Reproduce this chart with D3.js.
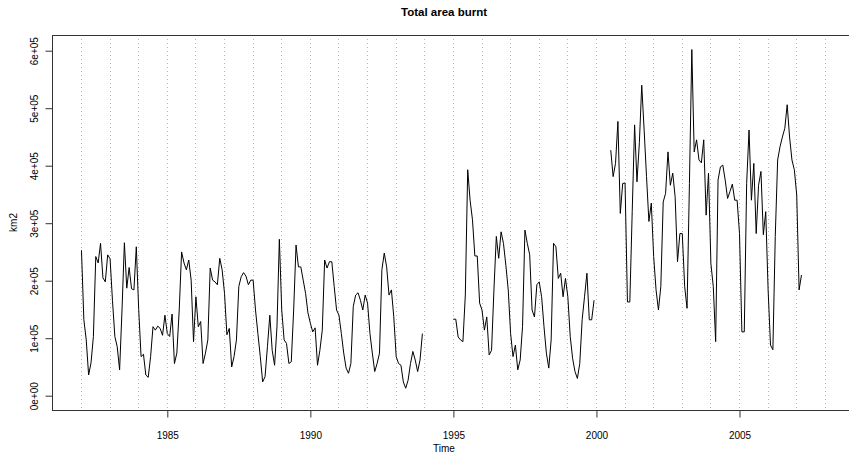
<!DOCTYPE html>
<html>
<head>
<meta charset="utf-8">
<script src="https://cdn.jsdelivr.net/npm/d3@7"></script>
<style>
  html, body { margin: 0; padding: 0; background: #fff; }
  svg { display: block; font-family: "Liberation Sans", Arial, Helvetica, sans-serif; }
</style>
</head>
<body>
<svg id="chart" width="849" height="455"></svg>
<script>
// Monthly total area burnt (km2), thousands; null = missing
const y1982 = [253, 132, 97, 36, 57, 103, 242, 231, 265, 205, 198, 245];
const y1983 = [238, 166, 103, 85, 45, 149, 266, 187, 223, 186, 184, 259];
const y1984 = [150, 68, 72, 36, 32, 68, 120, 114, 121, 117, 105, 140];
const y1985 = [108, 103, 142, 56, 74, 149, 250, 231, 219, 236, 201, 94];
const y1986 = [172, 120, 129, 56, 74, 97, 222, 201, 198, 193, 239, 219];
const y1987 = [178, 106, 117, 50, 68, 97, 190, 207, 214, 208, 193, 201];
const y1988 = [201, 149, 108, 68, 24, 33, 85, 140, 79, 53, 120, 272];
const y1989 = [149, 97, 91, 56, 59, 149, 262, 224, 224, 201, 178, 144];
const y1990 = [126, 111, 118, 53, 79, 114, 236, 222, 233, 233, 190, 149];
const y1991 = [140, 108, 74, 48, 39, 56, 155, 175, 179, 166, 149, 175];
const y1992 = [161, 108, 74, 42, 56, 74, 219, 248, 224, 175, 184, 137];
const y1993 = [68, 56, 53, 24, 13, 27, 56, 77, 62, 42, 62, 108];
const y1994 = [null, null, null, null, null, null, null, null, null, null, null, null];
const y1995 = [133, 133, 102, 97, 94, 175, 393, 340, 306, 243, 243, 161];
const y1996 = [149, 114, 137, 71, 79, 184, 277, 239, 285, 265, 227, 184];
const y1997 = [108, 68, 88, 45, 62, 120, 288, 265, 245, 149, 137, 193];
const y1998 = [198, 172, 120, 74, 48, 97, 265, 259, 204, 213, 172, 204];
const y1999 = [172, 103, 65, 42, 30, 56, 132, 172, 213, 132, 132, 166];
const y2000 = [null, null, null, null, null, null, 427, 381, 404, 477, 317, 369];
const y2001 = [370, 163, 163, 320, 471, 372, 440, 540, 462, 381, 303, 335];
const y2002 = [242, 184, 149, 190, 337, 352, 424, 366, 387, 346, 233, 282];
const y2003 = [282, 190, 152, 369, 602, 424, 445, 410, 405, 445, 314, 387];
const y2004 = [230, 190, 94, 375, 398, 401, 375, 343, 355, 368, 340, 340];
const y2005 = [282, 111, 111, 369, 462, 340, 404, 282, 366, 390, 280, 320];
const y2006 = [184, 88, 80, 277, 410, 433, 450, 465, 506, 450, 410, 393];
const y2007 = [349, 184, 210];

const years = [1982, 1983, 1984, 1985, 1986, 1987, 1988, 1989, 1990, 1991, 1992, 1993, 1994,
               1995, 1996, 1997, 1998, 1999, 2000, 2001, 2002, 2003, 2004, 2005, 2006, 2007];
const yearly = [y1982, y1983, y1984, y1985, y1986, y1987, y1988, y1989, y1990, y1991, y1992, y1993, y1994,
                y1995, y1996, y1997, y1998, y1999, y2000, y2001, y2002, y2003, y2004, y2005, y2006, y2007];

const xTicks = [1985, 1990, 1995, 2000, 2005];
const yTicks = [0, 100000, 200000, 300000, 400000, 500000, 600000];
const yTickLabels = ["0e+00", "1e+05", "2e+05", "3e+05", "4e+05", "5e+05", "6e+05"];
const vLines = d3.range(1982, 2009);

const title = "Total area burnt";
const xLabel = "Time";
const yLabel = "km2";

// build series
const series = [];
years.forEach((yr, i) => {
  yearly[i].forEach((v, m) => {
    series.push({ t: yr + m / 12, v: v == null ? null : v * 1000 });
  });
});

const svg = d3.select("#chart");
const box = { left: 52, right: 860, top: 35, bottom: 410 };

const x = d3.scaleLinear().domain([1985, 2005]).range([167.3, 739.5]);
const y = d3.scaleLinear().domain([0, 600000]).range([395.7, 50.7]);

// vertical dotted year lines
svg.append("g").selectAll("line").data(vLines).join("line")
  .attr("x1", d => x(d)).attr("x2", d => x(d))
  .attr("y1", box.top).attr("y2", box.bottom)
  .attr("stroke", "#b8b8b8").attr("stroke-width", 1)
  .attr("stroke-dasharray", "1,3")
  .attr("shape-rendering", "crispEdges");

// series line
const line = d3.line()
  .defined(d => d.v != null)
  .x(d => x(d.t))
  .y(d => y(d.v));

svg.append("path").datum(series)
  .attr("d", line)
  .attr("fill", "none")
  .attr("stroke", "#000")
  .attr("stroke-width", 1)
  .attr("stroke-linejoin", "round");

// box
svg.append("rect")
  .attr("x", box.left + 0.5).attr("y", box.top + 0.5)
  .attr("width", box.right - box.left).attr("height", box.bottom - box.top)
  .attr("fill", "none").attr("stroke", "#333").attr("stroke-width", 1);

// x axis
const xAxis = d3.axisBottom(x).tickValues(xTicks).tickSize(7).tickPadding(14)
  .tickFormat(d3.format("d"));
const gx = svg.append("g").attr("transform", `translate(0,${box.bottom + 0.5})`).call(xAxis);
gx.select(".domain").remove();
gx.selectAll("line").attr("stroke", "#333");
gx.selectAll("text").attr("font-size", 10).attr("fill", "#000")
  .attr("font-family", "Liberation Sans, Arial, sans-serif");

// y axis
const yAxis = d3.axisLeft(y).tickValues(yTicks).tickSize(7)
  .tickFormat((d, i) => yTickLabels[i]);
const gy = svg.append("g").attr("transform", `translate(${box.left + 0.5},0)`).call(yAxis);
gy.select(".domain").remove();
gy.selectAll("line").attr("stroke", "#333");
gy.selectAll("text")
  .attr("font-size", 10).attr("fill", "#000")
  .attr("font-family", "Liberation Sans, Arial, sans-serif")
  .attr("x", null).attr("dy", null)
  .attr("text-anchor", "middle")
  .attr("transform", "translate(-15,0) rotate(-90)");

// title
svg.append("text").attr("x", 444).attr("y", 16)
  .attr("text-anchor", "middle").attr("font-weight", "bold").attr("font-size", 11.5)
  .text(title);

// x label
svg.append("text").attr("x", 444).attr("y", 452)
  .attr("text-anchor", "middle").attr("font-size", 10)
  .text(xLabel);

// y label
svg.append("text").attr("transform", "translate(17,222.5) rotate(-90)")
  .attr("text-anchor", "middle").attr("font-size", 10)
  .text(yLabel);
</script>
</body>
</html>
